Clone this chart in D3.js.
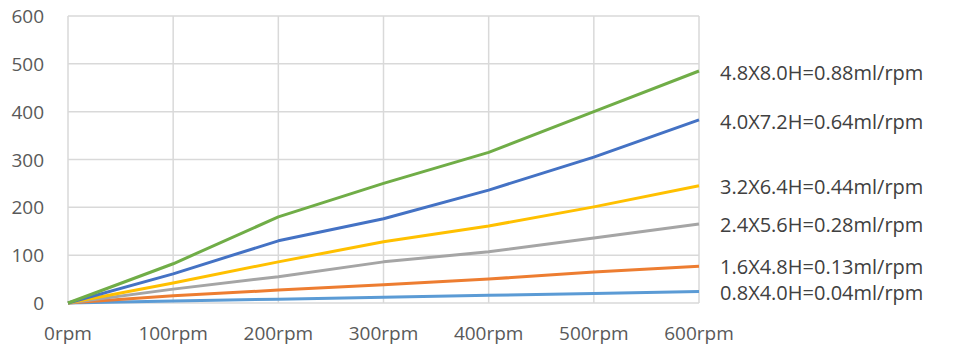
<!DOCTYPE html>
<html>
<head>
	<style>
		body { margin: 0; background: #fff; }
		text { font-family: "Open Sans", sans-serif; }
		.grid line { stroke: #d9d9d9; stroke-width: 1.5; }
		.line { fill: none; stroke-width: 3; stroke-linejoin: round; }
	</style>
</head>
<body>
	<svg id="container" width="971" height="349"></svg>
<script src="https://d3js.org/d3.v7.min.js"></script>
<script>
	let rpm = [0, 100, 200, 300, 400, 500, 600]
	let xLabels = ["0rpm", "100rpm", "200rpm", "300rpm", "400rpm", "500rpm", "600rpm"]
	let yTicks = [0, 100, 200, 300, 400, 500, 600]

	let names = ["0.8X4.0H=0.04ml/rpm", "1.6X4.8H=0.13ml/rpm", "2.4X5.6H=0.28ml/rpm",
		"3.2X6.4H=0.44ml/rpm", "4.0X7.2H=0.64ml/rpm", "4.8X8.0H=0.88ml/rpm"]
	let s08 = [0, 4, 8, 12, 16, 20, 24]
	let s16 = [0, 15, 27, 38, 50, 65, 77]
	let s24 = [0, 29, 55, 86, 107, 136, 165]
	let s32 = [0, 42, 86, 128, 161, 201, 245]
	let s40 = [0, 61, 130, 176, 236, 305, 383]
	let s48 = [0, 82, 180, 250, 315, 400, 485]
	let colors = ["#5b9bd5", "#ed7d31", "#a5a5a5", "#ffc000", "#4472c4", "#70ad47"]
	// label vertical positions nudged so they don't overlap
	let labelY = [293, 267, 225, 187, 122, 73]

	let series = [s08, s16, s24, s32, s40, s48]

	let svg = d3.select("#container")
	let plotLeft = 68, plotRight = 699, plotTop = 16, plotBottom = 303

	let x = d3.scaleLinear().domain([0, 600]).range([plotLeft, plotRight])
	let y = d3.scaleLinear().domain([0, 600]).range([plotBottom, plotTop])

	let grid = svg.append("g").attr("class", "grid")
	grid.selectAll(".h").data(yTicks).enter().append("line")
		.attr("x1", plotLeft).attr("x2", plotRight)
		.attr("y1", d => y(d)).attr("y2", d => y(d))
	grid.selectAll(".v").data(rpm).enter().append("line")
		.attr("y1", plotTop).attr("y2", plotBottom)
		.attr("x1", d => x(d)).attr("x2", d => x(d))

	svg.selectAll(".ytick").data(yTicks).enter().append("text")
		.attr("x", 44).attr("y", d => y(d))
		.attr("dy", "0.37em")
		.attr("text-anchor", "end")
		.style("font-size", "19px")
		.style("fill", "#595959")
		.text(d => d)

	svg.selectAll(".xtick").data(rpm).enter().append("text")
		.attr("x", d => x(d)).attr("y", 340)
		.attr("text-anchor", "middle")
		.style("font-size", "19px")
		.style("fill", "#595959")
		.text((d, i) => xLabels[i])

	let line = d3.line()
		.x((d, i) => x(rpm[i]))
		.y(d => y(d))

	svg.selectAll(".line").data(series).enter().append("path")
		.attr("class", "line")
		.attr("d", line)
		.attr("stroke", (d, i) => colors[i])

	svg.selectAll(".lbl").data(names).enter().append("text")
		.attr("x", 720).attr("y", (d, i) => labelY[i])
		.attr("dy", "0.35em")
		.style("font-size", "20px")
		.style("fill", "#404040")
		.text(d => d)
</script>
</body>
</html>
